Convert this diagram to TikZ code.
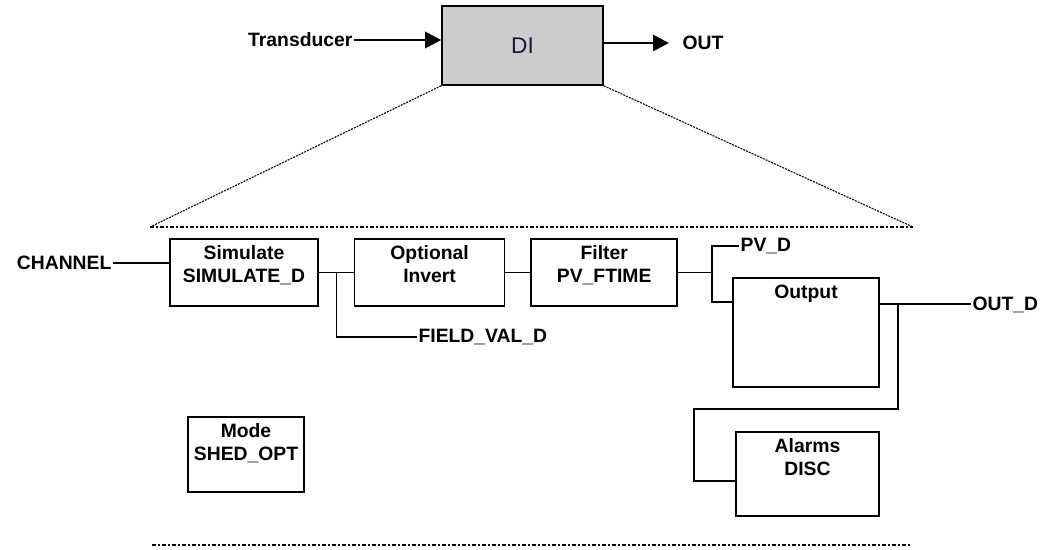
\documentclass[tikz,border=0pt]{standalone}
\usepackage{fontspec}
\setmainfont{Liberation Sans}
\usepackage{tikz}
\usetikzlibrary{arrows.meta, positioning, calc}
\definecolor{digray}{RGB}{204,204,204}
\definecolor{diink}{RGB}{24,24,56}
\tikzset{
  block/.style={rectangle, draw=black, fill=white, line width=1.2pt,
    align=center, inner xsep=2pt, inner ysep=5pt,
    font=\bfseries\fontsize{14.5}{17}\selectfont},
  sigtext/.style={inner sep=1pt, font=\bfseries\fontsize{14.5}{17}\selectfont},
  arrow/.style={-{Triangle[length=12pt,width=12pt]}, line width=2.2pt},
  line/.style={line width=1.1pt},
  zoomline/.style={line width=0.8pt, dash pattern=on 1.5pt off 0.8pt},
  frameline/.style={line width=1.3pt, dash pattern=on 3pt off 1.5pt on 1.5pt off 1.5pt}
}
\begin{document}
\begin{tikzpicture}[x=0.75pt, y=-0.75pt]
  \useasboundingbox (0,0) rectangle (1054,550);

  % Top level block
  \node[block, fill=digray, minimum width=120.75pt, minimum height=59.25pt,
    font=\fontsize{17}{20}\selectfont, text=diink] (di) at (522.5,45.5) {DI};
  \node[sigtext, anchor=east] (trans) at (354,40) {Transducer};
  \node[sigtext, anchor=west] (out) at (681,43) {OUT};

  % Zoom frame
  \coordinate (zl) at (150,227);
  \coordinate (zr) at (913,227);
  \coordinate (bl) at (152,545);
  \coordinate (br) at (910,545);

  % Function blocks
  \node[block, minimum width=111pt, minimum height=50.25pt, text depth=12.65pt] (sim) at (244,272.5) {Simulate\\SIMULATE\_D};
  \node[block, minimum width=112.5pt, minimum height=50.25pt, text depth=12.65pt, right=26.25pt of sim] (inv) {Optional\\Invert};
  \node[block, minimum width=109.5pt, minimum height=50.25pt, text depth=12.65pt, right=18.75pt of inv] (filt) {Filter\\PV\_FTIME};
  \node[block, minimum width=109.5pt, minimum height=81.75pt, text depth=61.15pt] (outp) at (806,332.5) {Output};
  \node[block, minimum width=107.25pt, minimum height=63pt, text depth=25.4pt] (alm) at (807.5,474) {Alarms\\DISC};
  \node[block, minimum width=87pt, minimum height=56.25pt, text depth=18.65pt] (mode) at (246,454.5) {Mode\\SHED\_OPT};

  % Signals
  \node[sigtext, anchor=east] (chan) at (113,263) {CHANNEL};
  \node[sigtext, anchor=west] (fv) at (417,337) {FIELD\_VAL\_D};
  \node[sigtext, anchor=west] (pv) at (739,246) {PV\_D};
  \node[sigtext, anchor=west] (outd) at (971,305) {OUT\_D};

  % Junctions
  \coordinate (j1) at ($(sim.east)!0.5!(inv.west)$);
  \coordinate (j2) at ($(filt.east)+(34,0)$);
  \coordinate (oin) at ($(outp.north west)+(0,25)$);
  \coordinate (oout) at ($(outp.north east)+(0,27)$);
  \coordinate (j3) at ($(oout)+(18,0)$);
  \coordinate (loop) at (694,409);

  % Connections
  \draw[arrow] (trans) -- (trans -| di.west);
  \draw[arrow] (di.east |- out) -- ([xshift=-9pt]out.west);
  \draw[zoomline] (di.south west) -- (zl);
  \draw[zoomline] (di.south east) -- (zr);
  \draw[frameline] (zl) -- (zr);
  \draw[frameline] (bl) -- (br);
  \draw[line] (chan) -- (chan -| sim.west);
  \draw[line] (sim) -- (inv);
  \draw[line] (j1) |- (fv);
  \draw[line] (inv) -- (filt);
  \draw[line] (filt) -- (j2);
  \draw[line] (pv.west) -| (j2) |- (oin);
  \draw[line] (oout) -- (oout -| outd.west);
  \draw[line] (j3) |- (loop) |- ([yshift=-5.25pt]alm.west);
\end{tikzpicture}
\end{document}
